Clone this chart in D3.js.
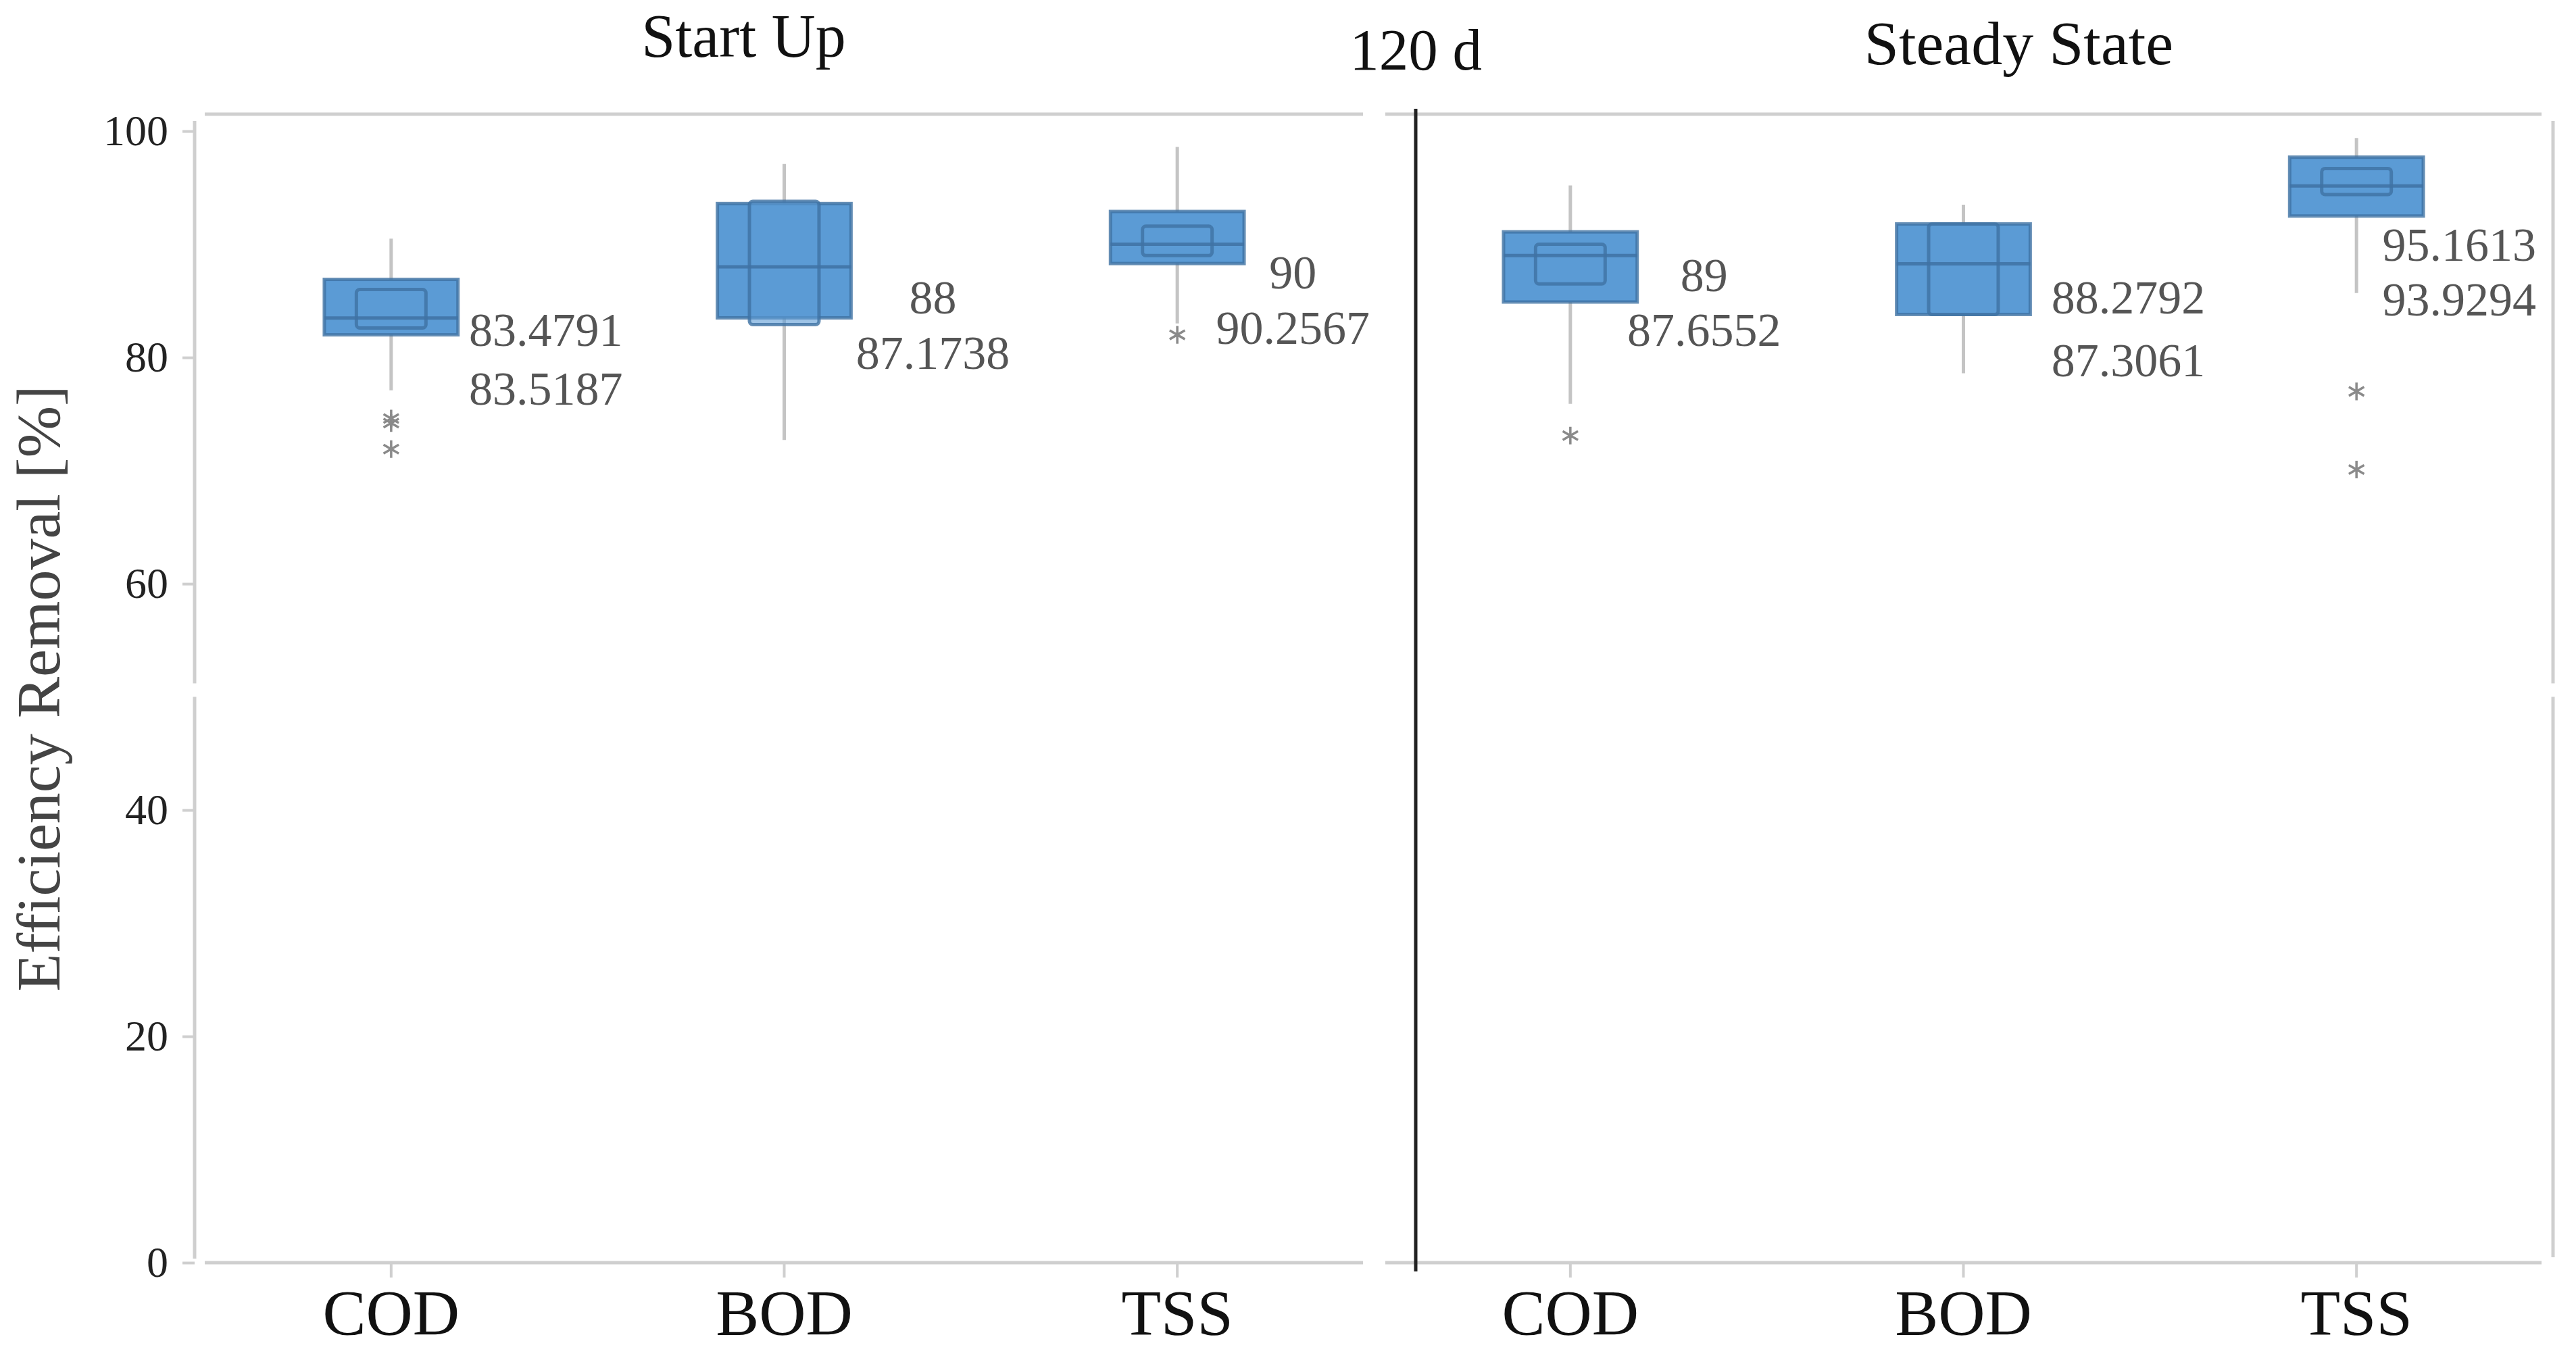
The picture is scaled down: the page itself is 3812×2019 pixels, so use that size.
<!DOCTYPE html>
<html>
<head>
<meta charset="utf-8">
<script src="https://cdn.jsdelivr.net/npm/d3@7"></script>
<style>
  body { margin: 0; background: #fff; }
  svg text { font-family: "Liberation Serif", "Times New Roman", serif; }
</style>
</head>
<body>
<svg width="3812" height="2019"></svg>
<script>
// groups along the x axis
var categories = ["COD", "BOD", "TSS", "COD", "BOD", "TSS"];
var phases = ["Start Up", "Start Up", "Start Up", "Steady State", "Steady State", "Steady State"];

// box plot values, efficiency removal [%]
var whiskerLow  = [77.1, 72.7, 83.0, 75.9, 78.6, 85.7];
var q1          = [82.0, 83.5, 88.3, 84.9, 83.8, 92.5];
var median      = [83.4791, 88, 90, 89, 88.2792, 95.1613];
var q3          = [86.9, 93.6, 92.9, 91.1, 91.8, 97.7];
var whiskerHigh = [90.5, 97.1, 98.6, 95.2, 93.5, 99.4];
var mean        = [83.5187, 87.1738, 90.2567, 87.6552, 87.3061, 93.9294];
// median confidence interval (inner box)
var ciLow  = [82.6, 82.9, 89.0, 86.5, 83.8, 94.4];
var ciHigh = [86.0, 93.8, 91.6, 90.0, 91.8, 96.7];
var outliers = [[74.6, 74.2, 71.9], [], [82.0], [73.1], [], [77.0, 70.1]];

var yTicks = [0, 20, 40, 60, 80, 100];

// where the two value labels sit, relative to the box (pixels)
var labelDx  = [229, 220, 171, 198, 244, 152];
var labelDy  = [16, -6, 37, -16, -1, 66];
var labelGap = [87, 82, 82, 81, 93, 81];

var svg = d3.select("svg");

var x = d3.scaleBand().domain(d3.range(categories.length)).range([288, 3778]);
var y = d3.scaleLinear().domain([0, 101.5]).range([1869, 169]);

var step = x.step();
var cx = function(i) { return x(i) + x.bandwidth() / 2; };
var boxW = step * 0.34, ciW = step * 0.177;

var frameColor = "#cfcfcf";
var boxFill = "#5b9bd5", boxLine = "#3f72a3";

// Y axis
var yAxis = svg.append("g")
    .attr("transform", "translate(288,0)")
    .call(d3.axisLeft(y).tickValues(yTicks).tickSize(18).tickPadding(21));
yAxis.select(".domain").remove();
yAxis.selectAll("line").attr("stroke", frameColor).attr("stroke-width", 4);
yAxis.selectAll("text").attr("font-size", 64).attr("fill", "#222");

// X axis
var xAxis = svg.append("g")
    .attr("transform", "translate(0,1869)")
    .call(d3.axisBottom(x).tickFormat(function(i) { return categories[i]; })
      .tickSize(22).tickPadding(17));
xAxis.select(".domain").remove();
xAxis.selectAll("line").attr("stroke", frameColor).attr("stroke-width", 4);
xAxis.selectAll("text").attr("font-size", 96).attr("fill", "#111");

// frame with the broken segments
var xL = x.range()[0], xR = x.range()[1], yT = y.range()[1], yB = y.range()[0];
var mid = x(3);
var gapA = y(51.2), gapB = y(50);
var segs = [
  [xL, yT + 10, xL, gapA], [xL, gapB, xL, yB - 6],
  [xR, yT + 10, xR, gapA], [xR, gapB, xR, yB - 8],
  [xL + 15, yT, mid - 16, yT], [mid + 17, yT, xR - 17, yT],
  [xL + 15, yB, mid - 16, yB], [mid + 17, yB, xR - 17, yB]
];
svg.append("g").selectAll("line")
  .data(segs)
  .enter()
  .append("line")
  .attr("x1", function(d) { return d[0]; })
  .attr("y1", function(d) { return d[1]; })
  .attr("x2", function(d) { return d[2]; })
  .attr("y2", function(d) { return d[3]; })
  .attr("stroke", frameColor)
  .attr("stroke-width", 5);

// 120 d divider
var divX = mid + 62;
svg.append("line")
  .attr("x1", divX).attr("x2", divX)
  .attr("y1", yT - 8).attr("y2", yB + 13)
  .attr("stroke", "#222").attr("stroke-width", 5);

// titles
svg.append("text").attr("x", cx(1) - 60).attr("y", 84)
  .attr("text-anchor", "middle").attr("font-size", 90).attr("fill", "#111")
  .text(phases[0]);
svg.append("text").attr("x", divX).attr("y", 103)
  .attr("text-anchor", "middle").attr("font-size", 87).attr("fill", "#111")
  .text("120 d");
svg.append("text").attr("x", cx(4) + 82).attr("y", 95)
  .attr("text-anchor", "middle").attr("font-size", 92).attr("fill", "#111")
  .text(phases[3]);

// y title
svg.append("text")
  .attr("transform", "translate(88,1019) rotate(-90)")
  .attr("text-anchor", "middle").attr("font-size", 92).attr("fill", "#444")
  .text("Efficiency Removal [%]");

var idx = d3.range(categories.length);
var plot = svg.append("g");

// whiskers
plot.selectAll(".whisker")
  .data(idx)
  .enter()
  .append("line")
  .attr("class", "whisker")
  .attr("x1", cx).attr("x2", cx)
  .attr("y1", function(i) { return y(whiskerHigh[i]); })
  .attr("y2", function(i) { return y(whiskerLow[i]); })
  .attr("stroke", "#c4c4c4")
  .attr("stroke-width", 5);

// quartile boxes
plot.selectAll(".box")
  .data(idx)
  .enter()
  .append("rect")
  .attr("class", "box")
  .attr("x", function(i) { return cx(i) - boxW / 2; })
  .attr("y", function(i) { return y(q3[i]); })
  .attr("width", boxW)
  .attr("height", function(i) { return y(q1[i]) - y(q3[i]); })
  .attr("fill", boxFill)
  .attr("stroke", boxLine)
  .attr("stroke-opacity", 0.8)
  .attr("stroke-width", 5);

// median CI boxes
plot.selectAll(".ci")
  .data(idx)
  .enter()
  .append("rect")
  .attr("class", "ci")
  .attr("x", function(i) { return cx(i) - ciW / 2; })
  .attr("y", function(i) { return y(ciHigh[i]); })
  .attr("width", ciW)
  .attr("height", function(i) { return y(ciLow[i]) - y(ciHigh[i]); })
  .attr("rx", 5)
  .attr("fill", boxFill)
  .attr("fill-opacity", 0.6)
  .attr("stroke", boxLine)
  .attr("stroke-opacity", 0.8)
  .attr("stroke-width", 5);

// median lines
plot.selectAll(".median")
  .data(idx)
  .enter()
  .append("line")
  .attr("class", "median")
  .attr("x1", function(i) { return cx(i) - boxW / 2; })
  .attr("x2", function(i) { return cx(i) + boxW / 2; })
  .attr("y1", function(i) { return y(median[i]); })
  .attr("y2", function(i) { return y(median[i]); })
  .attr("stroke", boxLine)
  .attr("stroke-opacity", 0.85)
  .attr("stroke-width", 5);

// outliers as asterisks
var star = d3.symbol().type(d3.symbolAsterisk).size(480);
var pts = [];
idx.forEach(function(i) { outliers[i].forEach(function(v) { pts.push({i: i, v: v}); }); });
plot.selectAll(".out")
  .data(pts)
  .enter()
  .append("path")
  .attr("class", "out")
  .attr("d", star)
  .attr("transform", function(d) { return "translate(" + cx(d.i) + "," + y(d.v) + ")"; })
  .attr("fill", "none")
  .attr("stroke", "#8a8a8a")
  .attr("stroke-width", 3.5);

// median / mean labels
var labels = plot.selectAll(".lbl")
  .data(idx)
  .enter()
  .append("text")
  .attr("class", "lbl")
  .attr("text-anchor", "middle")
  .attr("font-size", 70)
  .attr("fill", "#555");
labels.append("tspan")
  .attr("x", function(i) { return cx(i) + labelDx[i]; })
  .attr("y", function(i) { return y(q1[i]) + labelDy[i]; })
  .text(function(i) { return String(median[i]); });
labels.append("tspan")
  .attr("x", function(i) { return cx(i) + labelDx[i]; })
  .attr("y", function(i) { return y(q1[i]) + labelDy[i] + labelGap[i]; })
  .text(function(i) { return String(mean[i]); });
</script>
</body>
</html>
